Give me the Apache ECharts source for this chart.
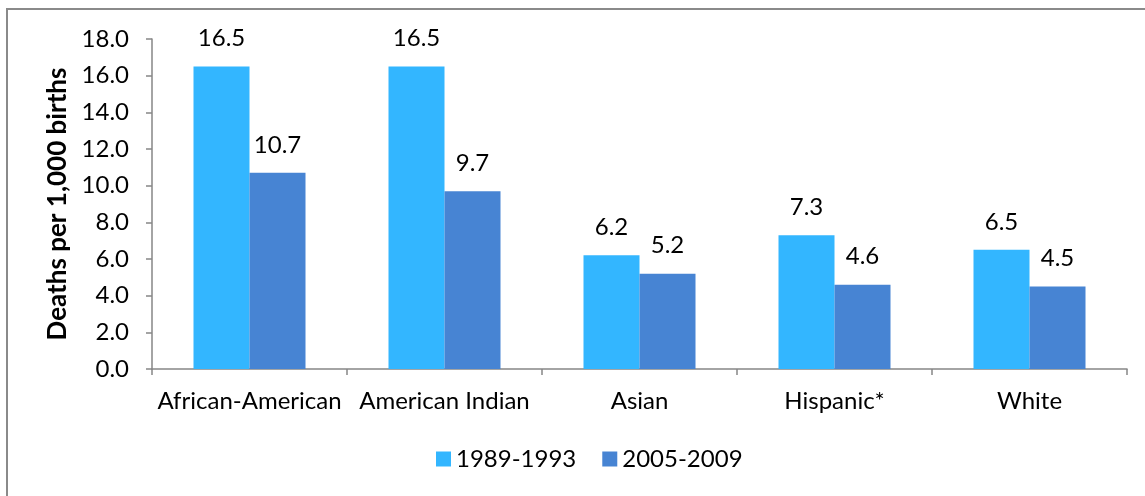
<!DOCTYPE html>
<html><head><meta charset="utf-8">
<script src="https://cdn.jsdelivr.net/npm/echarts@6/dist/echarts.min.js"></script>
<style>html,body{margin:0;padding:0;background:#fff}#c{width:1145px;height:496px}</style>
</head><body><div id="c"></div>
<script>
const categories = ['African-American', 'American Indian', 'Asian', 'Hispanic*', 'White'];
const seriesNames = ['1989-1993', '2005-2009'];
const values1989 = [16.5, 16.5, 6.2, 7.3, 6.5];
const values2005 = [10.7, 9.7, 5.2, 4.6, 4.5];
const yTicks = { min: 0, max: 18, interval: 2 };
const yTitle = 'Deaths per 1,000 births';

const FONT = 'Lato';
const FS = 24;
const chart = echarts.init(document.getElementById('c'));
const lbl = { show: true, position: 'top', distance: 16, color: '#000', fontFamily: FONT, fontSize: FS, formatter: p => p.value.toFixed(1) };
chart.setOption({
  animation: false,
  graphic: [{ type: 'rect', shape: { x: 7, y: 9, width: 2000, height: 2000 }, style: { fill: 'none', stroke: '#8a8a8a', lineWidth: 2 }, silent: true }],
  grid: { left: 152, right: 18, top: 39, bottom: 127 },
  legend: {
    top: 447, left: 436, padding: 0, itemWidth: 15, itemHeight: 15, itemGap: 26, icon: 'rect',
    textStyle: { fontFamily: FONT, fontSize: FS, color: '#000' },
    data: seriesNames
  },
  xAxis: {
    type: 'category', data: categories,
    axisLine: { lineStyle: { color: '#868686', width: 1.5 } },
    axisTick: { show: true, length: 6, lineStyle: { color: '#868686', width: 1.5 } },
    axisLabel: { fontFamily: FONT, fontSize: FS, color: '#000', margin: 20, interval: 0 }
  },
  yAxis: {
    type: 'value', min: yTicks.min, max: yTicks.max, interval: yTicks.interval,
    name: yTitle, nameLocation: 'middle', nameGap: 78, nameRotate: 90,
    nameTextStyle: { fontFamily: FONT, fontSize: 26, fontWeight: 'bold', color: '#000' },
    axisLine: { show: true, lineStyle: { color: '#868686', width: 1.5 } },
    axisTick: { show: true, length: 6, lineStyle: { color: '#868686', width: 1.5 } },
    splitLine: { show: false },
    axisLabel: { fontFamily: FONT, fontSize: FS, color: '#000', margin: 23, formatter: v => v.toFixed(1) }
  },
  series: [
    { name: seriesNames[0], type: 'bar', data: values1989, barWidth: 56, barGap: '0%', itemStyle: { color: '#33B6FF' }, label: lbl },
    { name: seriesNames[1], type: 'bar', data: values2005, barWidth: 56, barGap: '0%', itemStyle: { color: '#4784D3' }, label: lbl }
  ]
});
</script></body></html>
